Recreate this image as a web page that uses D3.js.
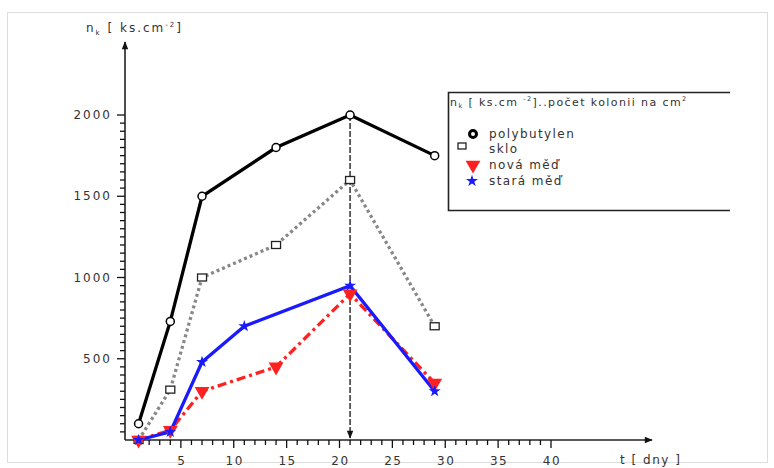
<!DOCTYPE html>
<html>
<head>
<meta charset="utf-8">
<script src="https://cdn.jsdelivr.net/npm/d3@7"></script>
<style>
  body { margin: 0; background: #fff; }
  svg text { font-family: "DejaVu Sans", sans-serif; fill: #333; }
</style>
</head>
<body>
<div id="chart"></div>
<script>
const width = 774,
  height = 468;

// data (t in days, n_k in ks.cm^-2)
const seriesNames = ["polybutylen", "sklo", "nová měď", "stará měď"];
const daysA = [1, 4, 7, 14, 21, 29];
const daysBlue = [1, 4, 7, 11, 21, 29];
const polybutylen = [100, 730, 1500, 1800, 2000, 1750];
const sklo = [0, 310, 1000, 1200, 1600, 700];
const novaMed = [0, 60, 300, 450, 900, 350];
const staraMed = [0, 50, 480, 700, 950, 300];
const xTicks = [5, 10, 15, 20, 25, 30, 35, 40];
const yTicks = [500, 1000, 1500, 2000];
const markerDay = 21;

const svg = d3.select("#chart").append("svg")
  .attr("width", width)
  .attr("height", height);

// outer frame
svg.append("rect")
  .attr("x", 7.5).attr("y", 12.5)
  .attr("width", 760).attr("height", 450)
  .attr("fill", "none").attr("stroke", "#ddd");

const xScale = d3.scaleLinear().domain([0, 40]).range([128, 551]);
const yScale = d3.scaleLinear().domain([0, 2000]).range([440, 115]);
const x0 = 125, y0 = 440;

// arrow marker
svg.append("defs").append("marker")
  .attr("id", "arrow")
  .attr("viewBox", "0 0 10 10")
  .attr("refX", 9).attr("refY", 5)
  .attr("markerWidth", 11).attr("markerHeight", 8)
  .attr("markerUnits", "userSpaceOnUse")
  .attr("orient", "auto")
  .append("path").attr("d", "M0,1 L10,5 L0,9 Z").attr("fill", "#111");

// x axis
svg.append("line")
  .attr("x1", x0).attr("y1", y0).attr("x2", 652).attr("y2", y0)
  .attr("stroke", "#222").attr("stroke-width", 1.6)
  .attr("marker-end", "url(#arrow)");
svg.append("g").selectAll("line")
  .data(d3.range(1, 41))
  .join("line")
  .attr("x1", d => xScale(d)).attr("x2", d => xScale(d))
  .attr("y1", y0).attr("y2", d => y0 + (d % 5 === 0 ? 8 : 5))
  .attr("stroke", "#111").attr("stroke-width", 1.3);
svg.append("g").selectAll("text")
  .data(xTicks)
  .join("text")
  .attr("x", d => xScale(d) + 1).attr("y", 465)
  .attr("text-anchor", "middle")
  .attr("font-size", 12).attr("letter-spacing", 1.5)
  .text(d => d);
svg.append("text")
  .attr("x", 620).attr("y", 464)
  .attr("font-size", 12).attr("letter-spacing", 1.5)
  .text("t [ dny ]");

// y axis
svg.append("line")
  .attr("x1", x0).attr("y1", y0).attr("x2", x0).attr("y2", 42)
  .attr("stroke", "#222").attr("stroke-width", 1.6)
  .attr("marker-end", "url(#arrow)");
svg.append("g").selectAll("line")
  .data(d3.range(50, 2001, 50))
  .join("line")
  .attr("x1", x0).attr("x2", d => x0 - (d % 500 === 0 ? 8 : 5))
  .attr("y1", d => yScale(d)).attr("y2", d => yScale(d))
  .attr("stroke", "#111").attr("stroke-width", 1.3);
svg.append("g").selectAll("text")
  .data(yTicks)
  .join("text")
  .attr("x", 112).attr("y", d => yScale(d) + 4)
  .attr("text-anchor", "end")
  .attr("font-size", 12).attr("letter-spacing", 2)
  .text(d => d);

const yLab = svg.append("text").attr("x", 86).attr("y", 32)
  .attr("font-size", 12).attr("letter-spacing", 2);
yLab.append("tspan").text("n");
yLab.append("tspan").attr("font-size", 7).attr("dy", 3).text("k");
yLab.append("tspan").attr("dy", -3).text(" [ ks.cm");
yLab.append("tspan").attr("font-size", 7).attr("dy", -5).text("-2");
yLab.append("tspan").attr("dy", 5).text("]");

// vertical dashed marker at t = 21
svg.append("line")
  .attr("x1", xScale(markerDay)).attr("x2", xScale(markerDay))
  .attr("y1", yScale(2000)).attr("y2", y0 - 2)
  .attr("stroke", "#333").attr("stroke-width", 1.5)
  .attr("stroke-dasharray", "6,2")
  .attr("marker-end", "url(#arrow)");

// series
const series = [
  { name: seriesNames[0], days: daysA, vals: polybutylen, color: "#000", dash: null },
  { name: seriesNames[1], days: daysA, vals: sklo, color: "#888", dash: "3,3" },
  { name: seriesNames[2], days: daysA, vals: novaMed, color: "#ff2020", dash: "9,4,3,4" },
  { name: seriesNames[3], days: daysBlue, vals: staraMed, color: "#1a1aff", dash: null }
];

const line = d3.line().x(d => xScale(d[0])).y(d => yScale(d[1]));

series.forEach(s => {
  s.pts = s.days.map((d, i) => [d, s.vals[i]]);
  svg.append("path")
    .datum(s.pts)
    .attr("d", line)
    .attr("fill", "none")
    .attr("stroke", s.color)
    .attr("stroke-width", 3.3)
    .attr("stroke-dasharray", s.dash);
});

// markers
svg.append("g").selectAll("circle")
  .data(series[0].pts)
  .join("circle")
  .attr("cx", d => xScale(d[0])).attr("cy", d => yScale(d[1]))
  .attr("r", 4).attr("fill", "#fff").attr("stroke", "#000").attr("stroke-width", 1.5);

svg.append("g").selectAll("rect")
  .data(series[1].pts)
  .join("rect")
  .attr("x", d => xScale(d[0]) - 4.5).attr("y", d => yScale(d[1]) - 3.5)
  .attr("width", 9).attr("height", 7)
  .attr("fill", "#fff").attr("stroke", "#222").attr("stroke-width", 1.3);

const tri = d3.symbol().type(d3.symbolTriangle).size(95);
svg.append("g").selectAll("path")
  .data(series[2].pts)
  .join("path")
  .attr("d", tri)
  .attr("transform", d => `translate(${xScale(d[0])},${yScale(d[1])}) rotate(180)`)
  .attr("fill", "#ff2020");

const star = d3.symbol().type(d3.symbolStar).size(45);
svg.append("g").selectAll("path")
  .data(series[3].pts)
  .join("path")
  .attr("d", star)
  .attr("transform", d => `translate(${xScale(d[0])},${yScale(d[1])})`)
  .attr("fill", "#1a1aff");

// legend
const lg = svg.append("g");
lg.append("path")
  .attr("d", "M730,92.5 H448.5 V210.5 H730")
  .attr("fill", "none").attr("stroke", "#222").attr("stroke-width", 1.6);
const lt = lg.append("text").attr("x", 450).attr("y", 106)
  .attr("font-size", 11).attr("letter-spacing", 1.4);
lt.append("tspan").text("n");
lt.append("tspan").attr("font-size", 6.5).attr("dy", 2).text("k");
lt.append("tspan").attr("dy", -2).text(" [ ks.cm ");
lt.append("tspan").attr("font-size", 6.5).attr("dy", -5).text("-2");
lt.append("tspan").attr("dy", 5).text("]..počet kolonii na cm");
lt.append("tspan").attr("font-size", 6.5).attr("dy", -5).text("2");

const legY = [134, 149, 165, 181];
lg.append("circle").attr("cx", 473).attr("cy", legY[0]).attr("r", 3.5)
  .attr("fill", "#fff").attr("stroke", "#000").attr("stroke-width", 3);
lg.append("rect").attr("x", 458).attr("y", legY[0] + 9).attr("width", 8).attr("height", 6)
  .attr("fill", "#fff").attr("stroke", "#222").attr("stroke-width", 1.3);
lg.append("path").attr("d", tri)
  .attr("transform", `translate(473,${legY[2]}) rotate(180)`).attr("fill", "#ff2020");
lg.append("path").attr("d", star)
  .attr("transform", `translate(472,${legY[3]})`).attr("fill", "#1a1aff");
lg.selectAll("text.item")
  .data(seriesNames)
  .join("text")
  .attr("class", "item")
  .attr("x", 489).attr("y", (d, i) => legY[i] + 4)
  .attr("font-size", 12).attr("letter-spacing", 1.4)
  .text(d => d);
</script>
</body>
</html>
